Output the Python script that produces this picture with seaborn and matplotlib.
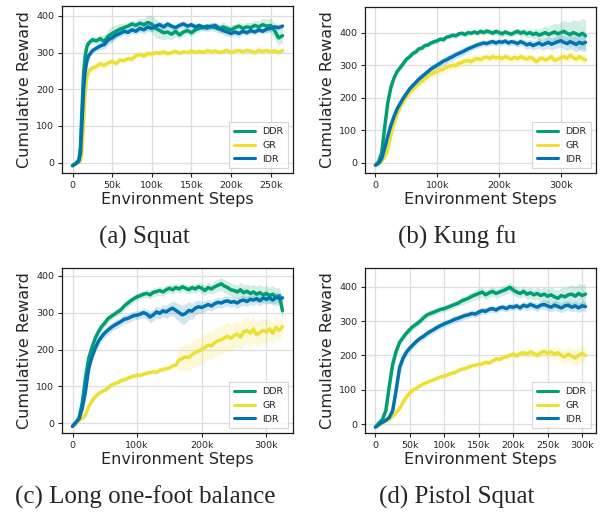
import matplotlib
matplotlib.use("Agg")
import matplotlib.pyplot as plt
from matplotlib.ticker import MultipleLocator, FuncFormatter
import pandas as pd
import seaborn as sns

methods = ["DDR", "GR", "IDR"]
colors = {"DDR": "#029e73", "GR": "#ece133", "IDR": "#0173b2"}

# ---- (a) Squat, steps in thousands
squat_steps = [0, 4, 8, 10, 12, 14, 16, 18] + list(range(20, 270, 5))
squat_ddr = [-8, -2, 8, 40, 150, 245, 290, 315,
             325, 335, 332, 338, 330, 345, 352, 358, 364, 368,
             372, 378, 374, 380, 376, 382, 378, 366, 360, 354,
             356, 350, 358, 348, 356, 360, 354, 362, 366, 370,
             366, 372, 368, 364, 370, 366, 362, 368, 372, 366,
             370, 368, 374, 370, 376, 372, 374, 360, 340, 346]
squat_gr = [-8, -4, 2, 8, 30, 110, 190, 230,
            248, 258, 262, 270, 265, 272, 276, 270, 280, 278,
            284, 282, 292, 295, 290, 298, 296, 300, 298, 302,
            297, 300, 304, 298, 302, 300, 305, 300, 304, 300,
            306, 302, 305, 300, 303, 306, 300, 304, 306, 302,
            306, 304, 300, 306, 303, 306, 302, 305, 300, 306]
squat_idr = [-8, -3, 4, 25, 110, 200, 250, 275,
             290, 305, 312, 318, 322, 335, 340, 348, 352, 358,
             355, 362, 358, 366, 362, 370, 366, 372, 376, 370,
             378, 372, 368, 374, 378, 372, 376, 370, 374, 368,
             372, 370, 374, 366, 360, 356, 352, 356, 352, 358,
             354, 360, 356, 362, 358, 364, 366, 370, 368, 372]
squat_ddr_sd = [2, 3, 8, 20, 30, 25, 15, 10,
                8, 10, 10, 12, 15, 18, 20, 18, 15, 12,
                10, 10, 12, 14, 16, 20, 24, 26, 22, 20,
                18, 15, 14, 12, 12, 10, 10, 10, 10, 10,
                10, 12, 12, 12, 14, 12, 12, 10, 10, 12,
                12, 14, 14, 16, 18, 18, 20, 22, 20, 18]
squat_gr_sd = [2, 2, 4, 10, 20, 25, 20, 15,
               12, 12, 10, 10, 10, 10, 10, 8, 8, 8,
               8, 8, 8, 8, 8, 8, 8, 8, 8, 8,
               6, 6, 6, 6, 6, 6, 6, 6, 6, 6,
               6, 6, 6, 6, 6, 6, 6, 6, 6, 6,
               6, 6, 6, 6, 6, 6, 6, 6, 6, 6]
squat_idr_sd = [2, 3, 6, 15, 25, 25, 15, 10,
                8, 8, 8, 10, 12, 14, 12, 10, 10, 10,
                10, 10, 10, 10, 12, 12, 10, 10, 10, 10,
                8, 8, 8, 10, 10, 8, 8, 8, 8, 8,
                8, 8, 10, 10, 12, 12, 10, 10, 10, 8,
                8, 8, 8, 8, 8, 8, 8, 8, 8, 8]

# ---- (b) Kung fu
kungfu_steps = list(range(0, 345, 5))
kungfu_ddr = [-8, 2, 30, 110, 185, 232, 260, 280, 292, 305,
              318, 325, 335, 340, 350, 352, 360, 362, 368, 372,
              375, 380, 378, 386, 388, 392, 390, 396, 398, 394,
              400, 398, 402, 398, 404, 400, 405, 402, 398, 404,
              400, 396, 402, 398, 395, 400, 404, 398, 402, 396,
              400, 394, 398, 392, 396, 400, 394, 398, 402, 396,
              400, 404, 398, 394, 400, 396, 392, 398, 390]
kungfu_gr = [-8, -4, 4, 18, 40, 85, 120, 150, 170, 188,
             202, 214, 224, 235, 243, 250, 258, 265, 272, 276,
             280, 285, 288, 294, 296, 300, 298, 305, 308, 312,
             314, 310, 318, 320, 316, 322, 325, 320, 326, 322,
             325, 320, 326, 322, 318, 324, 320, 326, 322, 318,
             324, 320, 310, 318, 322, 316, 320, 326, 314, 318,
             322, 326, 320, 330, 324, 318, 326, 320, 316]
kungfu_idr = [-8, -2, 12, 45, 82, 115, 142, 165, 182, 198,
              212, 226, 236, 246, 256, 264, 272, 280, 288, 294,
              300, 306, 312, 316, 322, 326, 332, 336, 340, 345,
              350, 354, 358, 362, 365, 368, 366, 370, 372, 368,
              372, 370, 374, 368, 372, 370, 366, 372, 368, 362,
              366, 360, 364, 368, 362, 366, 370, 364, 368, 372,
              375, 370, 366, 372, 368, 364, 370, 366, 370]
kungfu_ddr_sd = [2, 3, 8, 12, 12, 10, 8, 8, 8, 8,
                 8, 8, 8, 8, 8, 8, 8, 8, 8, 8,
                 8, 8, 8, 8, 8, 8, 8, 8, 8, 8,
                 8, 8, 8, 8, 8, 8, 8, 8, 8, 8,
                 10, 10, 10, 10, 10, 10, 10, 12, 12, 12,
                 14, 14, 16, 18, 20, 22, 24, 26, 28, 30,
                 32, 34, 36, 38, 40, 42, 44, 46, 48]
kungfu_gr_sd = [2, 2, 4, 8, 10, 12, 14, 14, 14, 14,
                14, 14, 14, 14, 14, 14, 14, 14, 14, 14,
                14, 14, 14, 14, 14, 14, 14, 14, 14, 14,
                14, 14, 14, 14, 14, 14, 14, 14, 14, 14,
                14, 14, 14, 14, 14, 14, 14, 14, 14, 14,
                14, 14, 14, 14, 14, 14, 14, 14, 14, 14,
                16, 16, 16, 16, 16, 16, 16, 16, 16]
kungfu_idr_sd = [2, 3, 6, 10, 12, 12, 12, 12, 12, 12,
                 12, 12, 12, 12, 12, 12, 12, 12, 12, 12,
                 12, 12, 12, 12, 12, 12, 12, 12, 12, 12,
                 10, 10, 10, 10, 10, 10, 10, 10, 10, 10,
                 10, 10, 10, 10, 10, 10, 12, 12, 12, 14,
                 14, 14, 14, 16, 16, 16, 18, 18, 18, 20,
                 20, 20, 22, 22, 22, 24, 24, 24, 24]

# ---- (c) Long one-foot balance
long_steps = list(range(0, 330, 5))
long_ddr = [-8, 2, 14, 55, 122, 176, 205, 230, 248, 262,
            272, 284, 290, 296, 302, 308, 318, 325, 332, 338,
            343, 346, 350, 352, 348, 355, 357, 360, 356, 362,
            366, 362, 368, 364, 370, 366, 362, 368, 364, 370,
            366, 360, 368, 364, 370, 374, 378, 372, 368, 362,
            360, 356, 362, 354, 358, 352, 356, 350, 354, 348,
            352, 346, 350, 342, 346, 305]
long_gr = [-8, -2, 8, 14, 22, 45, 60, 72, 80, 86,
           90, 96, 104, 108, 110, 116, 118, 122, 126, 128,
           131, 130, 134, 136, 138, 140, 138, 144, 146, 148,
           150, 156, 158, 172, 176, 180, 178, 186, 192, 196,
           200, 206, 212, 210, 218, 224, 226, 232, 236, 230,
           238, 242, 234, 248, 252, 244, 256, 240, 246, 252,
           248, 256, 244, 260, 252, 262]
long_idr = [-8, 2, 12, 40, 86, 149, 180, 203, 222, 235,
            245, 253, 260, 266, 271, 276, 282, 284, 288, 292,
            293, 296, 300, 296, 288, 294, 302, 298, 305, 302,
            308, 312, 306, 300, 294, 298, 306, 304, 312, 316,
            314, 318, 322, 318, 324, 328, 326, 330, 332, 328,
            330, 326, 332, 334, 330, 336, 334, 338, 332, 340,
            336, 340, 334, 342, 338, 340]
long_ddr_sd = [2, 3, 6, 10, 10, 10, 10, 10, 10, 10,
               10, 10, 10, 10, 10, 10, 10, 10, 10, 10,
               10, 10, 10, 12, 12, 12, 12, 12, 12, 12,
               12, 12, 12, 12, 12, 12, 12, 12, 12, 12,
               14, 14, 14, 14, 16, 16, 18, 18, 18, 18,
               18, 18, 20, 20, 20, 20, 20, 22, 22, 22,
               22, 22, 24, 24, 24, 26]
long_gr_sd = [2, 2, 4, 6, 6, 6, 6, 6, 6, 6,
              6, 6, 6, 6, 6, 6, 6, 6, 6, 6,
              6, 6, 6, 6, 6, 6, 6, 6, 6, 6,
              6, 6, 8, 30, 34, 36, 38, 38, 38, 38,
              38, 38, 38, 38, 38, 38, 38, 38, 38, 38,
              36, 36, 36, 36, 36, 36, 34, 34, 34, 34,
              32, 32, 30, 30, 28, 28]
long_idr_sd = [2, 3, 6, 10, 12, 12, 12, 12, 12, 12,
               12, 12, 12, 12, 12, 12, 12, 12, 12, 12,
               12, 12, 14, 14, 16, 16, 16, 16, 16, 18,
               18, 20, 22, 24, 26, 26, 24, 22, 20, 18,
               16, 16, 14, 14, 14, 14, 14, 14, 14, 14,
               14, 14, 14, 14, 14, 14, 14, 14, 14, 14,
               14, 14, 14, 14, 14, 14]

# ---- (d) Pistol Squat
pistol_steps = list(range(0, 310, 5))
pistol_ddr = [-8, 4, 14, 40, 110, 175, 212, 238, 252, 265,
              276, 285, 292, 300, 310, 318, 322, 326, 330, 334,
              336, 340, 344, 348, 352, 358, 362, 366, 372, 376,
              380, 384, 376, 382, 386, 380, 384, 388, 392, 398,
              390, 384, 380, 386, 378, 382, 376, 380, 374, 378,
              372, 376, 370, 366, 374, 370, 376, 378, 372, 380,
              374, 378]
pistol_gr = [-8, -2, 4, 10, 16, 24, 34, 46, 64, 80,
             92, 100, 106, 112, 118, 122, 126, 130, 134, 138,
             140, 144, 148, 150, 156, 160, 162, 166, 170, 172,
             174, 176, 180, 178, 184, 190, 188, 194, 196, 200,
             204, 198, 206, 208, 204, 210, 206, 200, 208, 212,
             206, 210, 204, 208, 200, 196, 204, 198, 192, 200,
             206, 200]
pistol_idr = [-8, 0, 6, 12, 20, 40, 100, 165, 192, 210,
              222, 232, 242, 250, 256, 264, 270, 276, 282, 287,
              292, 296, 300, 305, 308, 312, 316, 318, 322, 320,
              326, 330, 328, 334, 336, 332, 338, 340, 336, 342,
              340, 344, 338, 346, 342, 348, 344, 340, 346, 348,
              344, 340, 346, 342, 338, 344, 346, 340, 344, 338,
              344, 342]
pistol_ddr_sd = [2, 3, 6, 10, 14, 14, 12, 10, 10, 10,
                 10, 10, 10, 10, 10, 10, 10, 10, 10, 10,
                 10, 10, 10, 10, 10, 12, 12, 12, 12, 14,
                 14, 14, 14, 14, 14, 14, 14, 14, 14, 14,
                 14, 14, 14, 14, 16, 16, 16, 18, 18, 20,
                 20, 22, 22, 24, 24, 26, 26, 28, 28, 30,
                 30, 30]
pistol_gr_sd = [2, 2, 3, 4, 5, 6, 6, 6, 6, 6,
                6, 6, 6, 6, 6, 6, 6, 6, 6, 6,
                6, 6, 6, 6, 6, 6, 6, 6, 6, 6,
                8, 8, 8, 8, 8, 8, 8, 8, 8, 8,
                10, 10, 10, 10, 10, 12, 12, 12, 14, 14,
                16, 16, 18, 18, 20, 20, 22, 22, 24, 24,
                24, 24]
pistol_idr_sd = [2, 3, 4, 6, 8, 12, 18, 18, 14, 12,
                 10, 10, 10, 10, 10, 10, 10, 10, 10, 10,
                 10, 10, 10, 10, 10, 10, 10, 10, 10, 10,
                 10, 10, 10, 10, 10, 10, 10, 10, 10, 10,
                 10, 10, 10, 10, 12, 12, 12, 12, 12, 14,
                 14, 14, 14, 14, 14, 14, 14, 14, 14, 14,
                 14, 14]

panels = [
    ("(a) Squat", squat_steps, [squat_ddr, squat_gr, squat_idr],
     [squat_ddr_sd, squat_gr_sd, squat_idr_sd]),
    ("(b) Kung fu", kungfu_steps, [kungfu_ddr, kungfu_gr, kungfu_idr],
     [kungfu_ddr_sd, kungfu_gr_sd, kungfu_idr_sd]),
    ("(c) Long one-foot balance", long_steps, [long_ddr, long_gr, long_idr],
     [long_ddr_sd, long_gr_sd, long_idr_sd]),
    ("(d) Pistol Squat", pistol_steps, [pistol_ddr, pistol_gr, pistol_idr],
     [pistol_ddr_sd, pistol_gr_sd, pistol_idr_sd]),
]

sns.set_theme(style="whitegrid", rc={
    "axes.edgecolor": ".1",
    "axes.linewidth": 0.9,
    "grid.color": "#dedede",
    "grid.linewidth": 0.9,
    "xtick.bottom": True,
    "ytick.left": True,
    "xtick.major.size": 3,
    "ytick.major.size": 3,
    "xtick.major.width": 0.8,
    "ytick.major.width": 0.8,
    "xtick.color": ".15",
    "ytick.color": ".15",
})
plt.rcParams["font.family"] = ["DejaVu Sans"]

fig = plt.figure(figsize=(6.05, 5.19), dpi=100)

# axes rectangles (left, bottom, width, height) and ylim / x tick spacing
layout = [
    ([0.1025, 0.6667, 0.3818, 0.3218], (-28, 427), 50),
    ([0.6033, 0.6667, 0.3818, 0.3200], (-32, 479), 100),
    ([0.1025, 0.1657, 0.3818, 0.3180], (-26, 421), 100),
    ([0.6033, 0.1657, 0.3818, 0.3180], (-25, 454), 50),
]
caption_pos = [(0.238, 0.543), (0.755, 0.543), (0.240, 0.042), (0.755, 0.042)]

for (title, steps, means, sds), (rect, ylim, xstep), (cx, cy) in zip(panels, layout, caption_pos):
    ax = fig.add_axes(rect)
    rows = []
    for m, vals in zip(methods, means):
        rows.append(pd.DataFrame({"step": steps, "reward": vals, "method": m}))
    df = pd.concat(rows, ignore_index=True)

    for m, vals, sd in zip(methods, means, sds):
        lo = [v - s for v, s in zip(vals, sd)]
        hi = [v + s for v, s in zip(vals, sd)]
        ax.fill_between(steps, lo, hi, color=colors[m], alpha=0.18, lw=0)

    sns.lineplot(data=df, x="step", y="reward", hue="method", hue_order=methods,
                 palette=colors, linewidth=2.5, ax=ax)

    ax.set_ylim(*ylim)
    span = steps[-1]
    ax.set_xlim(-0.05 * span, 1.05 * span)
    ax.xaxis.set_major_locator(MultipleLocator(xstep))
    ax.yaxis.set_major_locator(MultipleLocator(100))
    ax.xaxis.set_major_formatter(FuncFormatter(lambda v, p: "0" if v == 0 else f"{v:g}k"))
    ax.tick_params(labelsize=6.8, pad=2.5)
    ax.set_xlabel("Environment Steps", fontsize=11.5, labelpad=2)
    ax.set_ylabel("Cumulative Reward", fontsize=11.5, labelpad=3)
    for s in ax.spines.values():
        s.set_visible(True)

    leg = ax.legend(loc="lower right", fontsize=6.8, frameon=True, handlelength=2.2,
                    borderpad=0.5, labelspacing=0.5, fancybox=False)
    leg.get_frame().set_edgecolor("#cccccc")
    leg.get_frame().set_linewidth(0.8)
    for h in leg.get_lines():
        h.set_linewidth(2.2)

    fig.text(cx, cy, title, ha="center", va="center", fontsize=18,
             family=["Liberation Serif"])

fig.savefig("out.png", dpi=100)
